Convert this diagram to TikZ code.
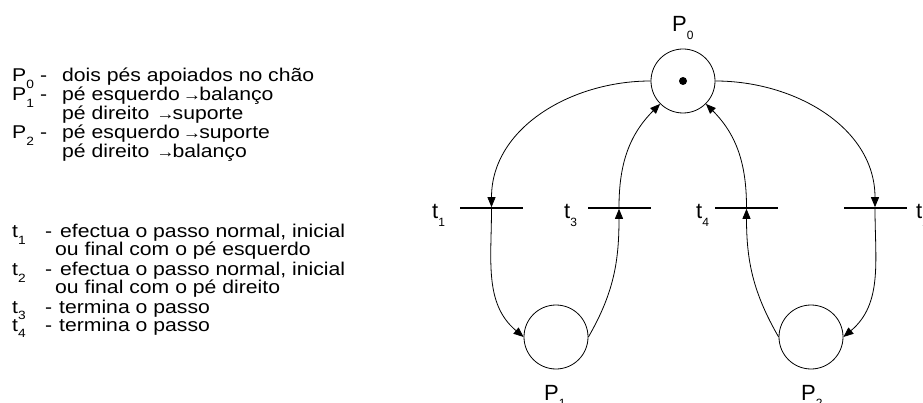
\documentclass[tikz,border=0pt]{standalone}
\usepackage{fontspec}
\setmainfont{Liberation Sans}
\newfontfamily\lefttext[FakeStretch=1.145]{Liberation Sans}
\usetikzlibrary{arrows.meta}
\newcommand\lsub[1]{\raisebox{-0.35em}{\fontsize{12}{12}\selectfont #1}}
\newcommand\arr{\kern3pt\raisebox{0.5pt}{\fontsize{16}{16}\selectfont →}\kern-2pt}
\begin{document}
\begin{tikzpicture}[x=1pt,y=-1pt,
  place/.style={circle,draw,line width=0.8pt,minimum size=64pt,inner sep=0pt},
  trans/.style={rectangle,fill=black,minimum width=63pt,minimum height=1.2pt,inner sep=0pt},
  arc/.style={line width=0.8pt,-{Triangle[length=10pt,width=8pt]}},
  lbl/.style={font=\fontsize{22}{24}\selectfont,inner sep=0pt,anchor=base west},
  txt/.style={font=\lefttext\fontsize{18.5}{19}\selectfont,anchor=base west,inner sep=0pt},
]
\useasboundingbox (0,0) rectangle (923,403);
\fill[white] (0,0) rectangle (923,403);

% left legend
\node[txt] (l1) at (12,82)  {\makebox[28pt][l]{P\lsub{0}}\makebox[22pt][l]{-}dois pés apoiados no chão};
\node[txt] (l2) at (12,101) {\makebox[28pt][l]{P\lsub{1}}\makebox[22pt][l]{-}pé esquerdo\arr balanço};
\node[txt] (l3) at (62,120) {pé direito\kern4pt\arr suporte};
\node[txt] (l4) at (12,139) {\makebox[28pt][l]{P\lsub{2}}\makebox[22pt][l]{-}pé esquerdo\arr suporte};
\node[txt] (l5) at (62,158) {pé direito\kern4pt\arr balanço};

\node[txt] (m1) at (12,238) {\makebox[33pt][l]{t\lsub{1}}\makebox[15pt][l]{-}efectua o passo normal, inicial};
\node[txt] (m2) at (55,256) {ou final com o pé esquerdo};
\node[txt] (m3) at (12,276) {\makebox[33pt][l]{t\lsub{2}}\makebox[15pt][l]{-}efectua o passo normal, inicial};
\node[txt] (m4) at (55,294) {ou final com o pé direito};
\node[txt] (m5) at (12,313) {\makebox[33pt][l]{t\lsub{3}}\makebox[14pt][l]{-}termina o passo};
\node[txt] (m6) at (12,331) {\makebox[33pt][l]{t\lsub{4}}\makebox[14pt][l]{-}termina o passo};

% places
\node[place] (P0) at (683,81) {};
\fill (P0.center) circle (4pt);
\node[place] (P1) at (556,337) {};
\node[place] (P2) at (811,337) {};

% transitions
\node[trans] (t1) at (491.5,208) {};
\node[trans] (t3) at (619,208) {};
\node[trans] (t4) at (746.5,208) {};
\node[trans] (t2) at (875,208) {};

% labels
\node[lbl] (lP0) at (672,32) {P\lsub{0}};
\node[lbl] (lP1) at (544,400) {P\lsub{1}};
\node[lbl] (lP2) at (801,400) {P\lsub{2}};
\node[lbl] (lt1) at (432,219) {t\lsub{1}};
\node[lbl] (lt3) at (564,219) {t\lsub{3}};
\node[lbl] (lt4) at (696,219) {t\lsub{4}};
\node[lbl] (lt2) at (916,219) {t\lsub{2}};

% arcs
\draw[arc] (P0.west) to[out=180,in=90] (t1.north);
\draw[arc] (t1.south) to[out=-90,in=140] (P1.west);
\draw[arc] (P1.east) to[out=60,in=-90] (t3.south);
\draw[arc] (t3.north) to[out=90,in=225] (P0);
\draw[arc] (P2.west) to[out=120,in=-90] (t4.south);
\draw[arc] (t4.north) to[out=90,in=-45] (P0);
\draw[arc] (P0.east) to[out=0,in=90] (t2.north);
\draw[arc] (t2.south) to[out=-90,in=40] (P2.east);
\end{tikzpicture}
\end{document}
